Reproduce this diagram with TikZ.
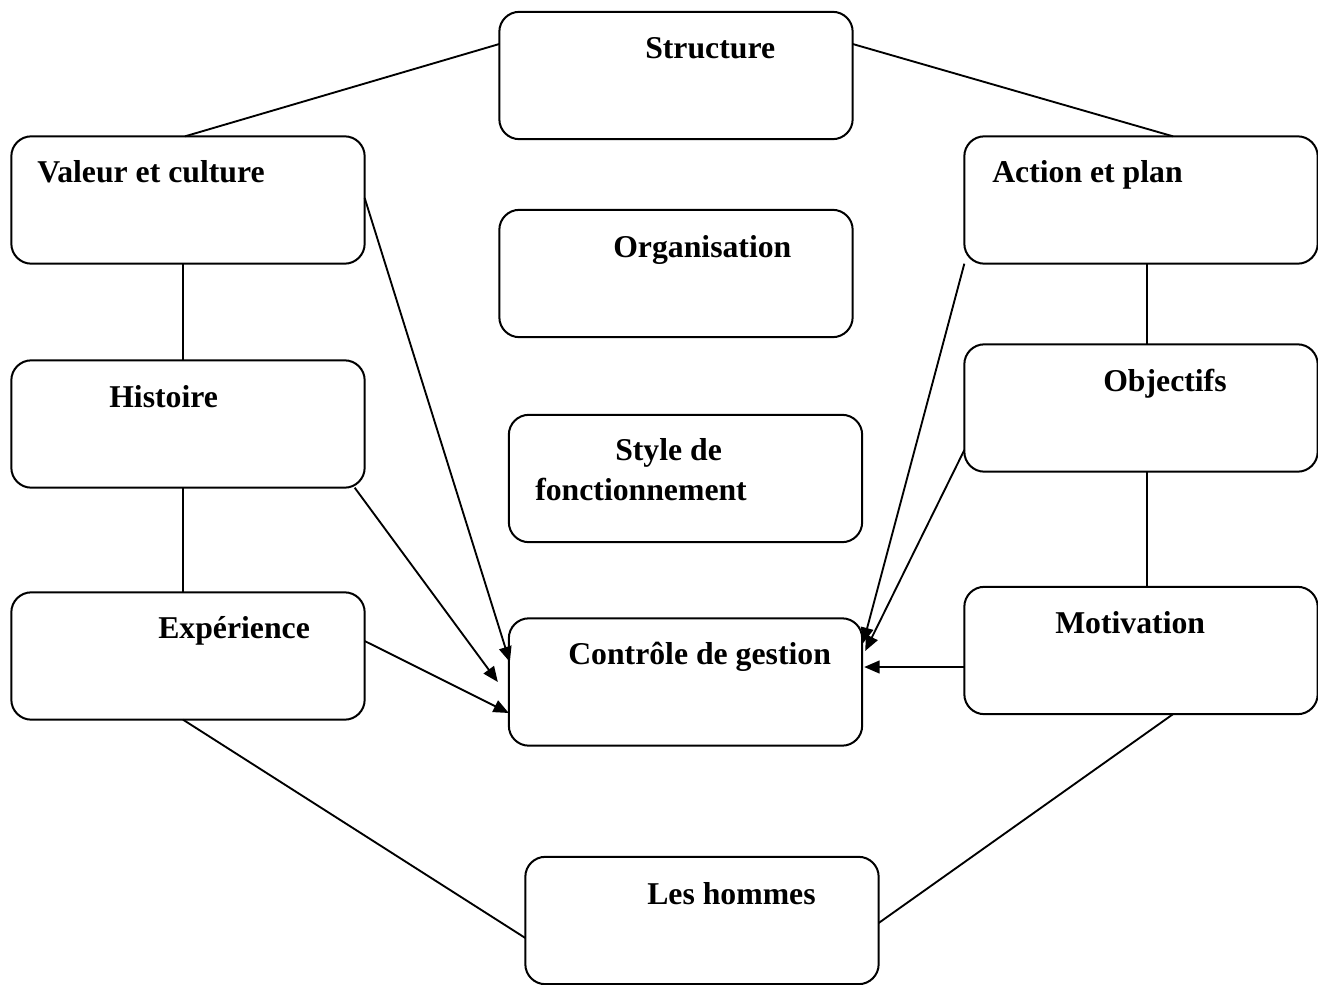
\documentclass[tikz,border=0pt]{standalone}
\usepackage{fontspec}
\setmainfont{Liberation Serif}
\usetikzlibrary{calc,arrows.meta}
\begin{document}
\begin{tikzpicture}[x=0.75pt,y=-0.75pt,
  bx/.style={draw, line width=1.5pt, rounded corners=15pt, minimum width=265pt, minimum height=95.5pt, inner sep=0pt, outer sep=0pt},
  lbl/.style={anchor=base west, inner sep=0pt, font=\fontsize{23.8pt}{30pt}\selectfont\bfseries},
  ln/.style={line width=1.4pt},
  arr/.style={line width=1.4pt, -{Triangle[length=11.5pt,width=9.5pt]}}]
\useasboundingbox (0,0) rectangle (1318,985);
% boxes
\node[bx] (st) at (676,75.5) {};
\node[bx] (va) at (188,200) {};
\node[bx] (ac) at (1141,200) {};
\node[bx] (or) at (676,273.5) {};
\node[bx] (hi) at (188,424) {};
\node[bx] (ob) at (1141,408) {};
\node[bx] (sf) at (685.5,478.5) {};
\node[bx] (ex) at (188,656) {};
\node[bx] (ct) at (685.5,682) {};
\node[bx] (mo) at (1141,650.5) {};
\node[bx] (lh) at (702,920.5) {};
% labels
\node[lbl] (tst) at (645,58) {Structure};
\node[lbl] (tva) at (37,182) {Valeur et culture};
\node[lbl] (tac) at (992,182) {Action et plan};
\node[lbl] (tor) at (613,257) {Organisation};
\node[lbl] (thi) at (109,407) {Histoire};
\node[lbl] (tob) at (1103,391) {Objectifs};
\node[lbl] (tsf1) at (615,460) {Style de};
\node[lbl] (tsf2) at (535,500) {fonctionnement};
\node[lbl] (tex) at (158,638) {Expérience};
\node[lbl] (tct) at (568,664) {Contrôle de gestion};
\node[lbl] (tmo) at (1055,633) {Motivation};
\node[lbl] (tlh) at (647,904) {Les hommes};
% plain connectors
\draw[ln] ($(st.west)+(0,-31.5)$) -- ($(va.north)+(-3,0)$);
\draw[ln] ($(st.east)+(0,-31.5)$) -- ($(ac.north)+(32,0)$);
\draw[ln] ($(va.south)+(-5,0)$) -- ($(hi.north)+(-5,0)$);
\draw[ln] ($(hi.south)+(-5,0)$) -- ($(ex.north)+(-5,0)$);
\draw[ln] ($(ac.south)+(6,0)$) -- ($(ob.north)+(6,0)$);
\draw[ln] ($(ob.south)+(6,0)$) -- ($(mo.north)+(6,0)$);
\draw[ln] ($(ex.south)+(-5,0)$) -- ($(lh.west)+(0,17.5)$);
\draw[ln] ($(mo.south)+(32,0)$) -- ($(lh.east)+(0,2.5)$);
% arrows
\draw[arr] ($(va.east)+(0,-2)$) -- ($(ct.west)+(1,-20)$);
\draw[arr] ($(hi.south east)+(-10,0)$) -- ($(ct.west)+(-11,0)$);
\draw[arr] ($(ex.east)+(0,-15)$) -- ($(ct.west)+(0,31)$);
\draw[arr] (ac.south west) -- ($(ct.east)+(1,-39)$);
\draw[arr] ($(ob.west)+(0,42)$) -- ($(ct.east)+(3,-31)$);
\draw[arr] ($(mo.west)+(0,16.5)$) -- ($(ct.east)+(2,-15)$);
\end{tikzpicture}
\end{document}
